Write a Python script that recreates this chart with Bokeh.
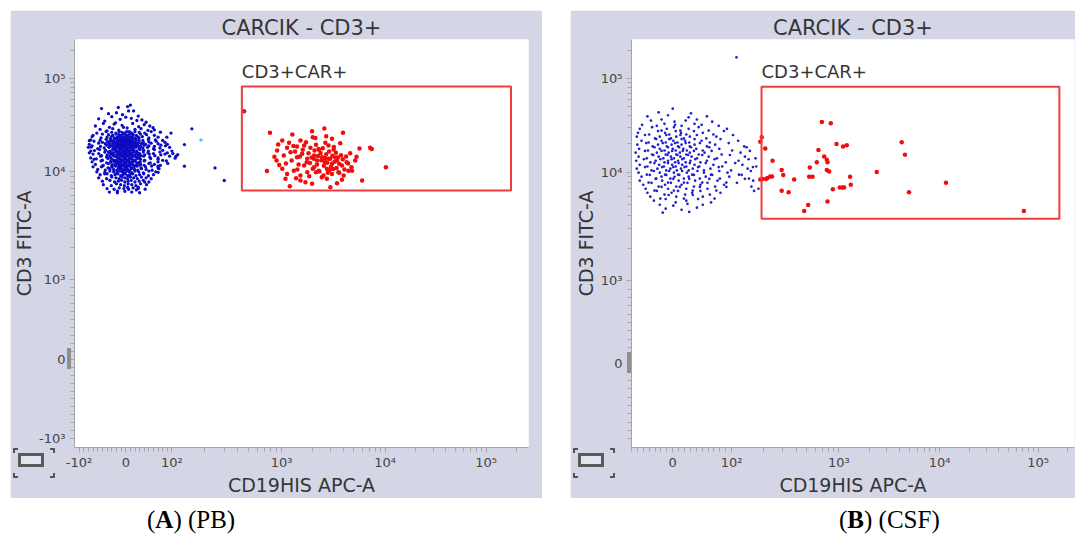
import numpy as np
from bokeh.plotting import figure
from bokeh.models import Range1d, FixedTicker, Label, Div
from bokeh.layouts import row, column
from bokeh.embed import file_html
from bokeh.resources import INLINE

# ---------------- data (fluorescence intensities) ----------------
title_text = "CARCIK - CD3+"
gate_text = "CD3+CAR+"
x_label = "CD19HIS APC-A"
y_label = "CD3 FITC-A"
captions = ["(<b>A</b>) (PB)", "(<b>B</b>) (CSF)"]

xa_major = [-100, 0, 100, 1000, 10000, 100000]
xa_labels = ["-10\u00b2", "0", "10\u00b2", "10\u00b3", "10\u2074", "10\u2075"]
ya_major = [-1000, 0, 1000, 10000, 100000]
ya_labels = ["-10\u00b3", "0", "10\u00b3", "10\u2074", "10\u2075"]
xb_major = [0, 100, 1000, 10000, 100000]
xb_labels = ["0", "10\u00b2", "10\u00b3", "10\u2074", "10\u2075"]
yb_major = [0, 1000, 10000, 100000]
yb_labels = ["0", "10\u00b3", "10\u2074", "10\u2075"]

# gates: (x0, x1, y0, y1)
gate_a = (434, 176000, 6710, 82000)
gate_b = (190, 165000, 3720, 82000)

blue_a_x = [
    -52, -16, 4, 10, -37, -20, -7, 6, 17, 27,
    -58, -45, -30, -12, 0, 12, 24, 35, 44, -22,
    -65, -48, -35, -25, -8, 3, 15, 28, 40, 52,
    -55, -40, -28, -15, -5, 8, 20, 33, 48, 62,
    -62, -42, -30, -21, -14, -8, -3, 2, 7, 13, 20, 29, 41, 55,
    -70, -50, -37, -28, -21, -15, -10, -5, 0, 5, 10, 16, 23, 32, 45, 62,
    -72, -53, -40, -31, -24, -18, -13, -8, -4, 0, 4, 9, 14, 20, 27, 36, 50, 70,
    -75, -55, -42, -33, -26, -20, -15, -10, -6, -2, 2, 6, 10, 15, 21, 28, 37, 49, 64, 80,
    -68, -50, -39, -31, -24, -18, -13, -9, -5, -1, 3, 7, 11, 16, 22, 29, 38, 50, 66, 85,
    -78, -58, -44, -34, -27, -21, -16, -12, -8, -4, 0, 4, 8, 12, 16, 21, 27, 34, 43, 55, 70, 90,
    -72, -54, -41, -32, -25, -19, -14, -10, -6, -2, 2, 6, 10, 14, 19, 25, 32, 40, 50, 62, 76, 86,
    -80, -60, -46, -36, -28, -22, -17, -13, -9, -5, -1, 3, 7, 11, 16, 22, 29, 37, 47, 60, 74, 95,
    -75, -56, -43, -33, -26, -20, -15, -11, -7, -3, 1, 5, 9, 13, 18, 24, 31, 39, 49, 62, 80, 100,
    -78, -58, -45, -35, -27, -21, -16, -12, -8, -4, 0, 4, 8, 12, 17, 23, 30, 38, 48, 60, 74, 90,
    -70, -52, -40, -31, -24, -18, -13, -9, -5, -1, 3, 7, 11, 15, 20, 26, 33, 41, 51, 63, 76, 85,
    -75, -54, -41, -32, -25, -19, -14, -9, -5, -1, 3, 7, 12, 17, 23, 30, 39, 52, 70, 95,
    -68, -50, -38, -29, -22, -16, -11, -7, -3, 1, 5, 9, 14, 19, 25, 32, 41, 54, 70, 80,
    -72, -53, -41, -32, -25, -19, -14, -9, -4, 0, 4, 8, 13, 18, 24, 31, 40, 53, 70, 88,
    -65, -48, -37, -29, -22, -16, -11, -7, -3, 1, 5, 9, 14, 19, 25, 32, 40, 50, 62, 75,
    -70, -50, -38, -29, -22, -16, -11, -6, -2, 2, 7, 12, 18, 25, 33, 43, 56, 70,
    -60, -44, -34, -26, -19, -13, -8, -4, 0, 4, 8, 13, 19, 26, 34, 44, 57, 72,
    -62, -45, -34, -26, -19, -13, -8, -3, 2, 7, 13, 20, 28, 38, 50, 65,
    -55, -40, -31, -23, -17, -11, -6, -1, 4, 9, 15, 22, 30, 39, 49, 60,
    -58, -41, -30, -21, -14, -8, -2, 4, 10, 17, 25, 34, 44, 55,
    -50, -34, -24, -16, -9, -2, 5, 12, 20, 29, 38, 50,
    -48, -31, -20, -11, -3, 5, 13, 22, 32, 45,
    -40, -25, -14, -4, 6, 16, 27, 42,
    -35, -18, -2, 13, 30,
    -33, -25, -18, -11, -5, 1, 7, 14, 21, 29,
    -36, -27, -20, -13, -7, -1, 5, 11, 18, 26,
    -35, -26, -19, -12, -6, 0, 6, 12, 19, 27,
    -37, -28, -21, -14, -8, -2, 4, 10, 17, 25,
    -34, -26, -19, -12, -6, 0, 6, 13, 20, 28,
    -32, -24, -17, -11, -5, 1, 7, 14, 21, 30,
    -30, -22, -15, -9, -3, 3, 9, 16, 23, 31,
    59, 75, 89, 98, 102, 113, 107, 91, 70, 70, 41, 27, -18, 4, 23, 130, 109, 130,
    -78, -74, -67, -63, -52, -45, 152, 247, 300,
]
blue_a_y = [
    47600, 48900, 50000, 52000, 42000, 43000, 41000, 45000, 45000, 39600,
    37000, 35000, 39000, 36500, 38500, 37500, 35500, 36000, 34000, 33500,
    31000, 33000, 30000, 32500, 31500, 29500, 33000, 30500, 32000, 31000,
    28500, 27500, 29000, 28000, 30000, 27000, 28500, 29000, 27800, 28200,
    26000, 27000, 26500, 26000, 27000, 26500, 26000, 27000, 26500, 26000, 27000, 26500, 26000, 27000,
    24600, 25400, 25000, 24600, 25400, 25000, 24600, 25400, 25000, 24600, 25400, 25000, 24600, 25400, 25000, 24600,
    23900, 23100, 23500, 23900, 23100, 23500, 23900, 23100, 23500, 23900, 23100, 23500, 23900, 23100, 23500, 23900, 23100, 23500,
    22000, 21700, 22300, 22000, 21700, 22300, 22000, 21700, 22300, 22000, 21700, 22300, 22000, 21700, 22300, 22000, 21700, 22300, 22000, 21700,
    21300, 20700, 21000, 21300, 20700, 21000, 21300, 20700, 21000, 21300, 20700, 21000, 21300, 20700, 21000, 21300, 20700, 21000, 21300, 20700,
    19700, 20300, 20000, 19700, 20300, 20000, 19700, 20300, 20000, 19700, 20300, 20000, 19700, 20300, 20000, 19700, 20300, 20000, 19700, 20300, 20000, 19700,
    19000, 18700, 19300, 19000, 18700, 19300, 19000, 18700, 19300, 19000, 18700, 19300, 19000, 18700, 19300, 19000, 18700, 19300, 19000, 18700, 19300, 19000,
    18300, 17700, 18000, 18300, 17700, 18000, 18300, 17700, 18000, 18300, 17700, 18000, 18300, 17700, 18000, 18300, 17700, 18000, 18300, 17700, 18000, 18300,
    16700, 17300, 17000, 16700, 17300, 17000, 16700, 17300, 17000, 16700, 17300, 17000, 16700, 17300, 17000, 16700, 17300, 17000, 16700, 17300, 17000, 16700,
    16000, 15700, 16300, 16000, 15700, 16300, 16000, 15700, 16300, 16000, 15700, 16300, 16000, 15700, 16300, 16000, 15700, 16300, 16000, 15700, 16300, 16000,
    15500, 14900, 15200, 15500, 14900, 15200, 15500, 14900, 15200, 15500, 14900, 15200, 15500, 14900, 15200, 15500, 14900, 15200, 15500, 14900, 15200, 15500,
    14100, 14700, 14400, 14100, 14700, 14400, 14100, 14700, 14400, 14100, 14700, 14400, 14100, 14700, 14400, 14100, 14700, 14400, 14100, 14700,
    13600, 13300, 13900, 13600, 13300, 13900, 13600, 13300, 13900, 13600, 13300, 13900, 13600, 13300, 13900, 13600, 13300, 13900, 13600, 13300,
    12800, 13100, 12500, 12800, 13100, 12500, 12800, 13100, 12500, 12800, 13100, 12500, 12800, 13100, 12500, 12800, 13100, 12500, 12800, 13100,
    12000, 11750, 12250, 12000, 11750, 12250, 12000, 11750, 12250, 12000, 11750, 12250, 12000, 11750, 12250, 12000, 11750, 12250, 12000, 11750,
    11300, 11550, 11050, 11300, 11550, 11050, 11300, 11550, 11050, 11300, 11550, 11050, 11300, 11550, 11050, 11300, 11550, 11050,
    10600, 10400, 10800, 10600, 10400, 10800, 10600, 10400, 10800, 10600, 10400, 10800, 10600, 10400, 10800, 10600, 10400, 10800,
    10000, 9800, 10200, 10000, 9800, 10200, 10000, 9800, 10200, 10000, 9800, 10200, 10000, 9800, 10200, 10000,
    9400, 9600, 9200, 9400, 9600, 9200, 9400, 9600, 9200, 9400, 9600, 9200, 9400, 9600, 9200, 9400,
    8800, 8650, 8950, 8800, 8650, 8950, 8800, 8650, 8950, 8800, 8650, 8950, 8800, 8650,
    8200, 8350, 8050, 8200, 8350, 8050, 8200, 8350, 8050, 8200, 8350, 8050,
    7600, 7450, 7750, 7600, 7450, 7750, 7600, 7450, 7750, 7600,
    7000, 6900, 7100, 7000, 6900, 7100, 7000, 6900,
    6500, 6400, 6600, 6500, 6400,
    22600, 23000, 22600, 23000, 22600, 23000, 22600, 23000, 22600, 23000,
    20500, 20100, 20500, 20100, 20500, 20100, 20500, 20100, 20500, 20100,
    18600, 18900, 18600, 18900, 18600, 18900, 18600, 18900, 18600, 18900,
    16400, 16100, 16400, 16100, 16400, 16100, 16400, 16100, 16400, 16100,
    14800, 15000, 14800, 15000, 14800, 15000, 14800, 15000, 14800, 15000,
    13000, 12700, 13000, 12700, 13000, 12700, 13000, 12700, 13000, 12700,
    11600, 11800, 11600, 11800, 11600, 11800, 11600, 11800, 11600, 11800,
    29700, 26600, 23500, 26000, 15700, 15300, 14000, 12300, 11500, 9900, 8050, 7200, 6620, 7200, 6800, 19600, 14700, 11500,
    21600, 18400, 16900, 13800, 11300, 9600, 28900, 11000, 8310,
]
cyan_a_x = [184]
cyan_a_y = [22000]

red_a = [
    (455, 44700), (783, 26300), (1270, 25100), (1970, 27200), (2590, 29100), (3920, 26300),
    (1015, 21700), (1520, 21700), (2120, 23100), (3070, 22600), (3690, 20300), (930, 19600),
    (1130, 18100), (1410, 18700), (1650, 19100), (1900, 18100), (2280, 17600), (2840, 19100),
    (3180, 17400), (5660, 17800), (7170, 18100), (7440, 17600), (900, 13200), (910, 16900),
    (1050, 15000), (1220, 16200), (1410, 14300), (1580, 15600), (1770, 13800), (2060, 15000),
    (2200, 13200), (2460, 14300), (2650, 12700), (2840, 13800), (3070, 12200), (3430, 13200),
    (3830, 11700), (4260, 12700), (4740, 11200), (5150, 13200), (735, 10200), (1015, 10800),
    (1130, 9560), (1310, 10300), (1520, 9240), (1770, 9920), (2060, 11200), (2280, 10300),
    (2540, 9240), (2740, 10800), (3070, 9560), (3540, 9920), (3980, 9240), (4420, 10300),
    (10200, 11200), (1200, 7360), (1970, 7750), (2960, 7200), (3430, 7840), (6000, 8310),
    (1090, 8610), (1520, 8310), (2740, 8610), (3830, 8430),
    (1180, 20500), (1350, 16500), (1460, 12000), (1600, 17200), (1720, 20800), (1820, 15800),
    (1880, 12400), (1950, 14200), (2000, 10800), (2080, 16900), (2150, 19500), (2200, 12000),
    (2250, 14800), (2320, 10100), (2380, 15900), (2420, 13300), (2500, 17900), (2560, 11600),
    (2620, 14100), (2700, 15400), (2760, 12500), (2800, 9800), (2880, 16500), (2950, 13800),
    (3000, 11300), (3100, 14900), (3150, 10700), (3250, 12800), (3350, 16000), (3400, 11000),
    (3500, 14200), (3600, 12200), (3750, 15100), (3900, 13600), (4050, 10600), (4200, 14600),
    (4400, 12300), (4600, 15800), (1650, 11700), (1420, 10600), (1250, 13200), (1100, 12300),
    (1300, 18900), (1500, 14600), (1750, 12700), (2050, 13800), (2300, 17200), (2600, 12900),
    (2900, 10400), (3300, 14200), (2150, 9900), (2450, 8900), (1850, 9100), (3600, 9800),
    (1380, 8700), (2650, 20500), (3200, 18500), (4800, 10300), (5300, 14500), (860, 14500),
    (950, 11800), (2000, 23500), (2700, 24000), (1700, 8000),
]

blue_b_x = [
    0,
    -24, 31,
    -43, -8, 27, 58,
    -37, -19, 3, 22, 41, 67,
    -52, -27, -14, 4, 15, 37, 49, 78,
    -56, -35, -19, -10, 2, 13, 27, 44, 61, 92,
    -59, -40, -25, -13, -6, 5, 14, 23, 36, 51, 69, 87,
    -61, -47, -30, -22, -11, -3, 6, 13, 19, 29, 41, 57, 74, 103,
    -53, -41, -28, -19, -12, -6, 1, 8, 15, 21, 28, 37, 49, 63, 81, 115,
    -60, -45, -34, -25, -17, -10, -2, 4, 9, 15, 22, 29, 37, 46, 58, 72, 95, 131,
    -57, -42, -31, -22, -14, -8, 0, 5, 11, 18, 24, 31, 40, 51, 62, 79, 101, 138,
    -63, -47, -35, -27, -19, -12, -7, -1, 6, 12, 17, 23, 29, 36, 44, 54, 66, 83, 121, 148,
    -58, -44, -33, -24, -16, -9, -3, 2, 8, 13, 19, 26, 32, 41, 50, 61, 75, 97, 133, 167,
    -62, -49, -38, -29, -21, -14, -8, -2, 4, 9, 16, 22, 30, 38, 47, 58, 71, 90, 116, 144,
    -56, -43, -31, -23, -15, -8, -1, 5, 10, 16, 23, 29, 37, 45, 56, 69, 84, 108, 126, 170,
    -61, -47, -36, -26, -18, -11, -4, 1, 7, 14, 20, 27, 34, 43, 53, 64, 78, 99, 141, 158,
    -58, -44, -32, -22, -13, -6, 2, 9, 16, 24, 33, 42, 53, 65, 79, 93, 117, 151,
    -53, -39, -28, -19, -11, -4, 3, 11, 19, 27, 36, 46, 56, 67, 80, 96, 124, 145,
    -56, -41, -29, -18, -8, 1, 10, 19, 28, 38, 50, 62, 76, 91, 133, 159,
    -50, -36, -24, -13, -3, 6, 15, 25, 36, 47, 59, 72, 87, 112, 153,
    -46, -31, -19, -8, 2, 12, 23, 34, 46, 59, 74, 91, 178,
    -43, -27, -14, -2, 9, 21, 33, 47, 63, 81, 162,
    -38, -21, -7, 6, 19, 34, 51, 71,
    -32, -12, 5, 23, 43, 65,
    -22, 1, 25, 51,
    -12, 15, 41,
    -17, 28,
    111,
]
blue_b_y = [
    47700,
    43500, 42500,
    39500, 40500, 38500, 39500,
    35500, 36500, 34600, 35500, 36500, 34600,
    32000, 31200, 32800, 32000, 31200, 32800, 32000, 31200,
    29000, 30200, 27800, 29000, 30200, 27800, 29000, 30200, 27800, 29000,
    26300, 25200, 27400, 26300, 25200, 27400, 26300, 25200, 27400, 26300, 25200, 27400,
    23900, 24900, 22900, 23900, 24900, 22900, 23900, 24900, 22900, 23900, 24900, 22900, 23900, 24900,
    21600, 20700, 22500, 21600, 20700, 22500, 21600, 20700, 22500, 21600, 20700, 22500, 21600, 20700, 22500, 21600,
    19600, 20400, 18800, 19600, 20400, 18800, 19600, 20400, 18800, 19600, 20400, 18800, 19600, 20400, 18800, 19600, 20400, 18800,
    17700, 17000, 18400, 17700, 17000, 18400, 17700, 17000, 18400, 17700, 17000, 18400, 17700, 17000, 18400, 17700, 17000, 18400,
    16100, 16800, 15400, 16100, 16800, 15400, 16100, 16800, 15400, 16100, 16800, 15400, 16100, 16800, 15400, 16100, 16800, 15400, 16100, 16800,
    14600, 14000, 15200, 14600, 14000, 15200, 14600, 14000, 15200, 14600, 14000, 15200, 14600, 14000, 15200, 14600, 14000, 15200, 14600, 14000,
    13200, 13700, 12700, 13200, 13700, 12700, 13200, 13700, 12700, 13200, 13700, 12700, 13200, 13700, 12700, 13200, 13700, 12700, 13200, 13700,
    11950, 11450, 12450, 11950, 11450, 12450, 11950, 11450, 12450, 11950, 11450, 12450, 11950, 11450, 12450, 11950, 11450, 12450, 11950, 11450,
    10850, 11300, 10400, 10850, 11300, 10400, 10850, 11300, 10400, 10850, 11300, 10400, 10850, 11300, 10400, 10850, 11300, 10400, 10850, 11300,
    9850, 9450, 10250, 9850, 9450, 10250, 9850, 9450, 10250, 9850, 9450, 10250, 9850, 9450, 10250, 9850, 9450, 10250,
    9050, 9400, 8700, 9050, 9400, 8700, 9050, 9400, 8700, 9050, 9400, 8700, 9050, 9400, 8700, 9050, 9400, 8700,
    8320, 8000, 8650, 8320, 8000, 8650, 8320, 8000, 8650, 8320, 8000, 8650, 8320, 8000, 8650, 8320,
    7640, 7950, 7350, 7640, 7950, 7350, 7640, 7950, 7350, 7640, 7950, 7350, 7640, 7950, 7350,
    7020, 6750, 7300, 7020, 6750, 7300, 7020, 6750, 7300, 7020, 6750, 7300, 7020,
    6450, 6700, 6200, 6450, 6700, 6200, 6450, 6700, 6200, 6450, 6700,
    5930, 5700, 6150, 5930, 5700, 6150, 5930, 5700,
    5450, 5650, 5250, 5450, 5650, 5250,
    5000, 4900, 5100, 5000,
    4600, 4500, 4700,
    4230, 4300,
    169000,
]

red_b = [
    (185, 21100), (191, 23500), (206, 17900), (241, 13200), (193, 8610), (209, 8610),
    (216, 8790), (229, 9100), (238, 9100), (293, 10500), (303, 9380), (293, 6720),
    (340, 6530), (383, 8540), (475, 4380), (518, 4980), (529, 9040), (569, 9040),
    (537, 11200), (624, 12700), (646, 17200), (695, 34400), (842, 33200), (730, 14700),
    (773, 13500), (785, 12700), (773, 10500), (813, 10100), (785, 5350), (880, 6960),
    (952, 19900), (1103, 18700), (1200, 19300), (1023, 7200), (1088, 7200), (1128, 7200),
    (1294, 9040), (1315, 7630), (2378, 10000), (4205, 20800), (4532, 15300), (4966, 6530),
    (11600, 7960), (71800, 4380), (185, 8540),
]

# ---------------- biexponential-like display scales ----------------
XA_VALS = [-1e4, -1e3, -1e2, 0, 1e2, 1e3, 1e4, 1e5, 1e6]
XA_POS = [-267.3, -157.3, -47.0, 0.0, 46.4, 156.7, 260.7, 362.4, 464.1]
YA_VALS = [-1e4, -1e3, 0, 1e3, 1e4, 1e5, 1e6]
YA_POS = [-186.4, -78.4, 0.0, 80.0, 188.0, 281.3, 374.6]
XB_VALS = [-1e4, -1e3, -1e2, 0, 1e2, 1e3, 1e4, 1e5, 1e6]
XB_POS = [-273.6, -166.3, -59.0, 0.0, 59.0, 166.3, 267.3, 365.8, 464.3]
YB_VALS = [-1e4, -1e3, 0, 1e3, 1e4, 1e5, 1e6]
YB_POS = [-191.7, -83.0, 0.0, 83.0, 191.7, 285.0, 378.3]


def make_tf(vals, pos, lin):
    def s(v):
        v = np.asarray(v, float)
        a = np.abs(v)
        return np.where(a <= lin, v / lin,
                        np.sign(v) * (1 + np.log10(np.maximum(a, lin) / lin)))
    sv = s(vals)
    pv = np.asarray(pos, float)
    return lambda v: np.interp(s(v), sv, pv)


tx_a = make_tf(XA_VALS, XA_POS, 100)
ty_a = make_tf(YA_VALS, YA_POS, 1000)
tx_b = make_tf(XB_VALS, XB_POS, 100)
ty_b = make_tf(YB_VALS, YB_POS, 1000)

LOG_MINORS = [k * 10 ** e for e in (2, 3, 4) for k in range(2, 10)] + [200000]
X_MINORS = [v for v in range(-90, 100, 10) if v != 0] + LOG_MINORS
Y_MINORS = [v for v in range(-900, 1000, 100) if v != 0] + LOG_MINORS[8:]

FONT = "DejaVu Sans"
FRAME_BG = "#d4d5e5"
AX_COL = "#a6a6a6"
TXT = "#353535"
BLUE = "#0c0cc4"
BLUE_B = "#2222cc"
RED = "#f20d0d"


def make_ticker(tf, majors, labels, minors):
    mpos = [round(float(tf(v)), 3) for v in majors]
    mins = [round(float(tf(v)), 3) for v in minors]
    return FixedTicker(ticks=mpos, minor_ticks=mins), dict(zip(mpos, labels))


def panel(tx, ty, xlim, ylim, xmaj, xlab, ymaj, ylab, width, mb_left, mb_right, margin):
    p = figure(width=width, height=488,
               x_range=Range1d(float(tx(xlim[0])), float(tx(xlim[1]))),
               y_range=Range1d(float(ty(ylim[0])), float(ty(ylim[1]))),
               output_backend="svg", toolbar_location=None,
               min_border_left=mb_left, min_border_right=mb_right,
               min_border_top=29, min_border_bottom=51,
               border_fill_color=FRAME_BG, background_fill_color="white",
               outline_line_color=None, margin=margin)
    p.grid.visible = False
    p.title.text = title_text
    p.title.align = "center"
    p.title.text_font = FONT
    p.title.text_font_size = "21px"
    p.title.text_font_style = "normal"
    p.title.text_color = TXT
    p.title.standoff = 0
    p.title.offset = 0

    xt, xo = make_ticker(tx, xmaj, xlab, X_MINORS)
    yt, yo = make_ticker(ty, ymaj, ylab, Y_MINORS)
    p.xaxis.ticker = xt
    p.xaxis.major_label_overrides = xo
    p.yaxis.ticker = yt
    p.yaxis.major_label_overrides = yo
    for ax in (p.xaxis[0], p.yaxis[0]):
        ax.axis_line_color = AX_COL
        ax.major_tick_line_color = AX_COL
        ax.minor_tick_line_color = AX_COL
        ax.major_tick_in = 0
        ax.major_tick_out = 5
        ax.minor_tick_in = 0
        ax.minor_tick_out = 4
        ax.major_label_text_font = FONT
        ax.major_label_text_font_size = "13px"
        ax.major_label_text_color = "#444444"
        ax.axis_label_text_font = FONT
        ax.axis_label_text_font_size = "19px"
        ax.axis_label_text_font_style = "normal"
        ax.axis_label_text_color = TXT
    p.xaxis.axis_label = x_label
    p.yaxis.axis_label = y_label
    p.xaxis.major_label_standoff = 2
    p.yaxis.major_label_standoff = 4
    p.xaxis.axis_label_standoff = 1
    p.yaxis.axis_label_standoff = 1
    return p


# ---------------- panel A ----------------
pa = panel(tx_a, ty_a, (-110, 262144), (-1220, 262144), xa_major, xa_labels,
           ya_major, ya_labels, 532, 63, 14, (10, 0, 0, 10))
assert len(blue_a_x) == len(blue_a_y)
pa.scatter(tx_a(blue_a_x), ty_a(blue_a_y), size=3.3, color=BLUE, line_width=0)
pa.scatter(tx_a(cyan_a_x), ty_a(cyan_a_y), size=3.3, color="#3cc8ff", line_width=0)
rax, ray = zip(*red_a)
pa.scatter(tx_a(rax), ty_a(ray), size=4.5, color=RED, line_width=0)
pa.quad(left=[float(tx_a(gate_a[0]))], right=[float(tx_a(gate_a[1]))],
        bottom=[float(ty_a(gate_a[2]))], top=[float(ty_a(gate_a[3]))],
        fill_color=None, line_color="#f03c3c", line_width=2)
pa.add_layout(Label(x=float(tx_a(gate_a[0])), y=float(ty_a(100000)), text=gate_text,
                    text_font=FONT, text_font_size="18px", text_color=TXT,
                    text_baseline="alphabetic", y_offset=7))

# ---------------- panel B ----------------
pb = panel(tx_b, ty_b, (-70, 235000), (-1010, 262144), xb_major, xb_labels,
           yb_major, yb_labels, 505, 61, 1, (10, 0, 0, 28))
assert len(blue_b_x) == len(blue_b_y)
pb.scatter(tx_b(blue_b_x), ty_b(blue_b_y), size=2.7, color=BLUE_B, line_width=0)
rbx, rby = zip(*red_b)
pb.scatter(tx_b(rbx), ty_b(rby), size=4.5, color=RED, line_width=0)
pb.quad(left=[float(tx_b(gate_b[0]))], right=[float(tx_b(gate_b[1]))],
        bottom=[float(ty_b(gate_b[2]))], top=[float(ty_b(gate_b[3]))],
        fill_color=None, line_color="#f03c3c", line_width=2)
pb.add_layout(Label(x=float(tx_b(gate_b[0])), y=float(ty_b(100000)), text=gate_text,
                    text_font=FONT, text_font_size="18px", text_color=TXT,
                    text_baseline="alphabetic", y_offset=7))


def icon(left, top):
    s = ('<div style="position:absolute;left:%dpx;top:%dpx;width:42px;height:30px;">' % (left, top))
    corner = 'position:absolute;width:5px;height:5px;border-color:#555;border-style:solid;'
    s += '<div style="%sleft:0;top:0;border-width:2px 0 0 2px;"></div>' % corner
    s += '<div style="%sright:0;top:0;border-width:2px 2px 0 0;"></div>' % corner
    s += '<div style="%sleft:0;bottom:0;border-width:0 0 2px 2px;"></div>' % corner
    s += '<div style="%sright:0;bottom:0;border-width:0 2px 2px 0;"></div>' % corner
    s += ('<div style="position:absolute;left:5px;top:5px;width:26px;height:14px;'
          'border:3px solid #5a5a5a;background:#e4e4ee;"></div>')
    return s + '</div>'


def zero_bar(left, top):
    return ('<div style="position:absolute;left:%dpx;top:%dpx;width:4px;height:21px;'
            'background:#8f8f8f;"></div>' % (left, top))


cap_html = (
    '<div style="position:relative;width:1075px;height:30px;'
    'font-family:\'Liberation Serif\',serif;font-size:25px;color:#000;">'
    '<span style="position:absolute;left:147px;top:9px;line-height:25px;white-space:nowrap;">'
    + captions[0] + '</span>'
    '<span style="position:absolute;left:839px;top:9px;line-height:25px;white-space:nowrap;">'
    + captions[1] + '</span>'
    + icon(13, -50) + icon(573, -50)
    + zero_bar(67, -150) + zero_bar(627, -146)
    + '</div>'
)
cap = Div(text=cap_html, width=1075, height=30, margin=(0, 0, 0, 0),
          styles={"overflow": "visible"})

layout = column(row(pa, pb), cap)
open("out.html", "w").write(file_html(layout, INLINE))
